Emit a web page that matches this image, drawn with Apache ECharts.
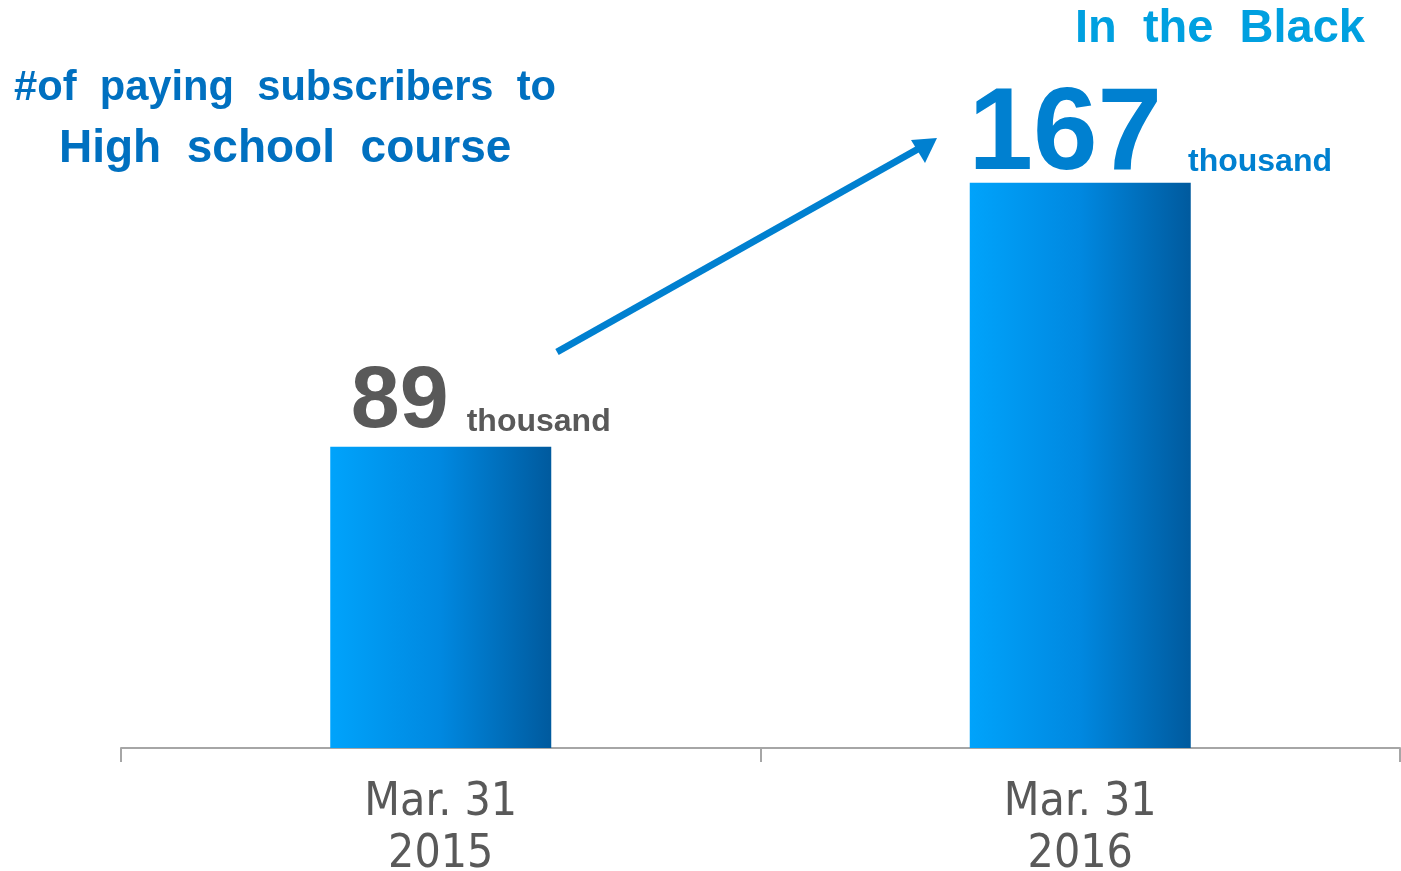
<!DOCTYPE html>
<html>
<head>
<meta charset="utf-8">
<script src="https://cdn.jsdelivr.net/npm/echarts@6/dist/echarts.min.js"></script>
<style>html,body{margin:0;padding:0;background:#fff}#c{width:1401px;height:871px}</style>
</head>
<body>
<div id="c"></div>
<script>
const categories = ['Mar. 31\n2015', 'Mar. 31\n2016'];
const values = [89, 167];
const unitLabel = 'thousand';
const titleLines = ['#of  paying  subscribers  to', 'High  school  course'];
const badgeText = 'In  the  Black';

const chart = echarts.init(document.getElementById('c'));
const valueColors = ['#595959', '#0080d0'];
const bigSizes = [88, 116];
const unitPad = [[0, 0, 9, 18], [0, 0, 17, 26]];
const labelOffsets = [[40, 6], [70, 18]];

chart.setOption({
  animation: false,
  grid: { left: 121, right: 1, top: 71, bottom: 123, outerBoundsMode: 'none', containLabel: false },
  xAxis: {
    type: 'category',
    data: categories,
    axisLine: { lineStyle: { color: '#a6a6a6', width: 2 } },
    axisTick: { show: true, length: 14, lineStyle: { color: '#a6a6a6', width: 2 } },
    axisLabel: {
      color: '#595959', fontFamily: 'DejaVu Sans Condensed', fontSize: 46,
      lineHeight: 52, margin: 29
    }
  },
  yAxis: { type: 'value', min: 0, max: 200, show: false, splitLine: { show: false } },
  series: [{
    type: 'bar',
    barWidth: 221,
    data: values.map((v, i) => ({
      value: v,
      label: {
        show: true, position: 'top', offset: labelOffsets[i], distance: 6,
        formatter: p => '{a' + i + '|' + p.value + '}{b' + i + '|' + unitLabel + '}',
        rich: {
          ['a' + i]: { fontFamily: 'Liberation Sans', fontWeight: 'bold', fontSize: bigSizes[i], color: valueColors[i], verticalAlign: 'bottom', lineHeight: bigSizes[i] },
          ['b' + i]: { fontFamily: 'Liberation Sans', fontWeight: 'bold', fontSize: 32, color: valueColors[i], verticalAlign: 'bottom', lineHeight: 32, padding: unitPad[i] }
        }
      }
    })),
    itemStyle: {
      color: new echarts.graphic.LinearGradient(0, 0, 1, 0, [
        { offset: 0, color: '#00a3fb' },
        { offset: 0.5, color: '#0088e0' },
        { offset: 1, color: '#005a9e' }
      ])
    }
  }],
  graphic: [
    { type: 'text', left: 14, top: 68, style: { text: titleLines[0], font: 'bold 41.7px "Liberation Sans"', fill: '#0070c0' } },
    { type: 'text', left: 59, top: 126, style: { text: titleLines[1], font: 'bold 46px "Liberation Sans"', fill: '#0070c0' } },
    { type: 'text', left: 1075, top: 6, style: { text: badgeText, font: 'bold 47px "Liberation Sans"', fill: '#00a0e0' } },
    { type: 'line', shape: { x1: 557, y1: 352, x2: 918, y2: 149 }, style: { stroke: '#0080d0', lineWidth: 7 } },
    { type: 'polygon', shape: { points: [[937, 138], [911, 140], [925, 163]] }, style: { fill: '#0080d0' } }
  ]
});
</script>
</body>
</html>
